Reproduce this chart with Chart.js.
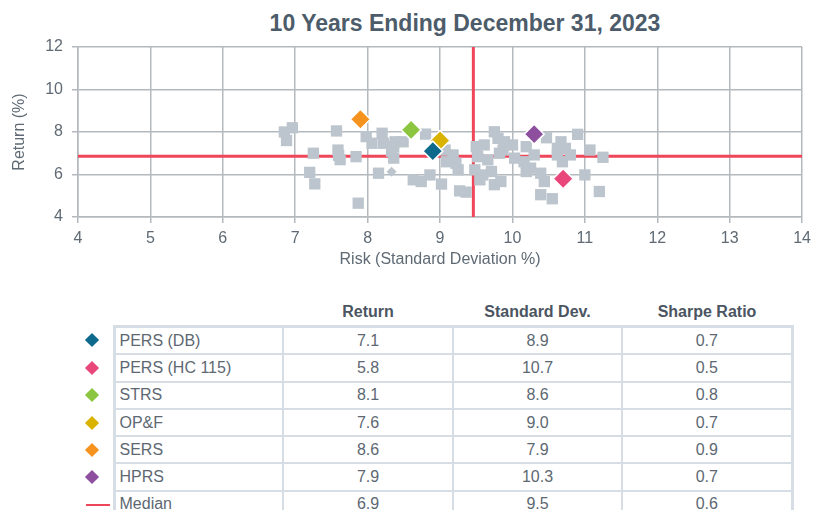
<!DOCTYPE html>
<html lang="en">
<head>
  <meta charset="UTF-8">
  <title>10 Years Ending December 31, 2023</title>
  <script src="https://cdn.jsdelivr.net/npm/chart.js"></script>
  <style>
    html, body { margin: 0; padding: 0; background: #fff; overflow: hidden; }
    body { width: 817px; height: 510px; position: relative; font-family: "Liberation Sans", Arial, sans-serif; }
    #title {
      position: absolute; left: 0; top: 0; width: 930px; line-height: 46px;
      text-align: center; font-weight: bold; font-size: 23px; color: #4d5c6a;
    }
    #wrap { position: absolute; left: 0; top: 0; width: 817px; height: 275px; }
    #stats {
      position: absolute; left: 84px; top: 299px; width: 708px; table-layout: fixed;
      border-collapse: collapse; font-size: 16px; color: #5d6872;
    }
    #stats th { font-weight: bold; color: #4b5561; height: 26px; padding: 0; text-align: center; }
    #stats td { height: 25.3px; padding: 0; border: 2px solid #d6dde4; text-align: center; }
    #stats td.mk { border: none; text-align: left; padding-left: 2px; }
    #stats td.name { text-align: left; padding-left: 4px; }
    #stats tbody tr td:last-child { border-right-width: 3px; }
    #stats tbody tr td.name { border-left-width: 3px; }
    #stats tbody tr:first-child td:not(.mk) { border-top-width: 3px; }
    .dia { display: inline-block; width: 10px; height: 10px; transform: rotate(45deg); margin-left: 1px; }
    .med { display: inline-block; width: 24px; height: 2px; background: #f0465a; vertical-align: middle; }
  </style>
</head>
<body>
  <div id="title">10 Years Ending December 31, 2023</div>
  <div id="wrap"><canvas id="chart" width="817" height="275"></canvas></div>
  <table id="stats">
    <colgroup><col style="width:30px"><col style="width:169px"><col style="width:170px"><col style="width:169px"><col style="width:170px"></colgroup>
    <thead><tr><th></th><th></th><th>Return</th><th>Standard Dev.</th><th>Sharpe Ratio</th></tr></thead>
    <tbody></tbody>
  </table>

  <script>
    // peer universe (risk %, return %)
    const peerRisk = [6.96, 6.85, 6.88, 7.25, 7.2, 7.27, 7.57, 7.59, 7.6, 7.62, 7.84, 7.87,
      7.98, 8.2, 8.06, 8.22, 8.36, 8.36, 8.15, 8.38, 8.49, 8.33, 8.8, 9.07, 9.18, 9.22, 9.09, 9.25,
      8.63, 8.74, 8.86, 9.02, 9.27, 9.36, 9.5, 9.52, 9.48, 9.61, 9.66, 9.59, 9.71, 9.75,
      9.8, 9.87, 9.75, 9.55, 9.89, 10.0, 9.82, 10.03, 9.84, 10.47, 10.19, 10.3, 10.16, 10.25,
      10.39, 10.44, 10.19, 10.39, 10.55, 10.67, 10.73, 10.62, 10.8, 10.69, 10.9, 10.62,
      11.07, 11.25, 11.0, 11.2];
    const peerReturn = [8.2, 8.0, 7.6, 7.0, 6.1, 5.56, 8.05, 7.15, 6.9, 6.7, 6.84, 4.65,
      7.78, 7.94, 7.47, 7.47, 7.31, 6.77, 6.06, 7.54, 7.54, 7.1, 7.9, 7.15, 6.92, 6.53, 6.6, 6.22,
      5.75, 5.67, 5.98, 5.55, 5.23, 5.17, 7.31, 6.84, 6.22, 7.39, 6.69, 5.98, 6.14, 8.01,
      7.7, 7.15, 5.52, 5.75, 7.54, 7.39, 7.0, 6.77, 5.67, 7.73, 7.31, 6.92, 6.6, 6.3,
      6.06, 5.67, 6.14, 5.05, 4.86, 7.54, 7.23, 6.92, 6.92, 6.6, 7.89, 7.23,
      7.15, 6.81, 5.98, 5.2];
    const otherRisk = [8.33];
    const otherReturn = [6.13];

    // plans
    const planNames = ['PERS (DB)', 'PERS (HC 115)', 'STRS', 'OP&F', 'SERS', 'HPRS'];
    const planReturn = [7.1, 5.8, 8.1, 7.6, 8.6, 7.9];
    const planRisk = [8.9, 10.7, 8.6, 9.0, 7.9, 10.3];
    const planSharpe = [0.7, 0.5, 0.8, 0.7, 0.9, 0.7];
    const planColors = ['#0d6a8c', '#e9477c', '#8cc540', '#d9b300', '#f6931e', '#8d4f9e'];

    // medians
    const medianReturn = 6.86;
    const medianRisk = 9.46;
    const medianSharpe = 0.6;

    const xTicks = [4, 14];
    const yTicks = [4, 12];

    // table
    const tbody = document.querySelector('#stats tbody');
    planNames.forEach((n, i) => {
      const tr = document.createElement('tr');
      tr.innerHTML = '<td class="mk"><span class="dia" style="background:' + planColors[i] + '"></span></td>' +
        '<td class="name"></td><td>' + planReturn[i].toFixed(1) + '</td><td>' +
        planRisk[i].toFixed(1) + '</td><td>' + planSharpe[i].toFixed(1) + '</td>';
      tr.querySelector('.name').textContent = n;
      tbody.appendChild(tr);
    });
    const mtr = document.createElement('tr');
    mtr.innerHTML = '<td class="mk"><span class="med"></span></td><td class="name">Median</td><td>' +
      medianReturn.toFixed(1) + '</td><td>' + medianRisk.toFixed(1) + '</td><td>' +
      medianSharpe.toFixed(1) + '</td>';
    tbody.appendChild(mtr);

    // chart
    Chart.defaults.font.family = '"Liberation Sans", Arial, sans-serif';
    Chart.defaults.font.size = 16;
    Chart.defaults.color = '#5f6a74';

    const gridColor = '#b4b9be';
    const planDatasets = planNames.map((n, i) => ({
      label: n,
      data: [{ x: planRisk[i], y: planReturn[i] }],
      pointStyle: 'rectRot',
      pointRadius: 10,
      backgroundColor: planColors[i],
      borderColor: '#ffffff',
      borderWidth: 1.5,
      order: 0
    }));

    new Chart(document.getElementById('chart'), {
      type: 'scatter',
      data: {
        datasets: [
          ...planDatasets,
          {
            label: 'Peers',
            data: peerRisk.map((r, i) => ({ x: r, y: peerReturn[i] })),
            pointStyle: 'rect',
            pointRadius: 8,
            backgroundColor: '#bcc5cd',
            borderWidth: 0,
            order: 1
          },
          {
            label: 'Other',
            data: otherRisk.map((r, i) => ({ x: r, y: otherReturn[i] })),
            pointStyle: 'rectRot',
            pointRadius: 5,
            backgroundColor: '#bcc5cd',
            borderWidth: 0,
            order: 1
          },
          {
            type: 'line', label: 'Median return',
            data: [{ x: xTicks[0], y: medianReturn }, { x: xTicks[1], y: medianReturn }],
            showLine: true, borderColor: '#f0465a', borderWidth: 3, pointRadius: 0, order: 2
          },
          {
            type: 'line', label: 'Median risk',
            data: [{ x: medianRisk, y: yTicks[0] }, { x: medianRisk, y: yTicks[1] }],
            showLine: true, borderColor: '#f0465a', borderWidth: 3, pointRadius: 0, order: 2
          }
        ]
      },
      options: {
        responsive: false,
        animation: false,
        layout: { padding: { top: 47, right: 11, left: 0, bottom: 0 } },
        plugins: { legend: { display: false }, tooltip: { enabled: false } },
        scales: {
          x: {
            type: 'linear', min: xTicks[0], max: xTicks[1],
            ticks: { stepSize: 1, padding: 6 },
            grid: { color: gridColor, lineWidth: 1.5, tickLength: 6 },
            border: { color: gridColor, width: 1.5 },
            title: { display: true, text: 'Risk (Standard Deviation %)', padding: { top: 0, bottom: 6 } },
            afterFit: s => { s.height = 58; }
          },
          y: {
            min: yTicks[0], max: yTicks[1],
            ticks: { stepSize: 2, padding: 9 },
            grid: { color: gridColor, lineWidth: 1.5, tickLength: 6 },
            border: { color: gridColor, width: 1.5 },
            title: { display: true, text: 'Return (%)', padding: { top: 10, bottom: 0 } },
            afterFit: s => { s.width = 78; }
          }
        }
      }
    });
  </script>
</body>
</html>
